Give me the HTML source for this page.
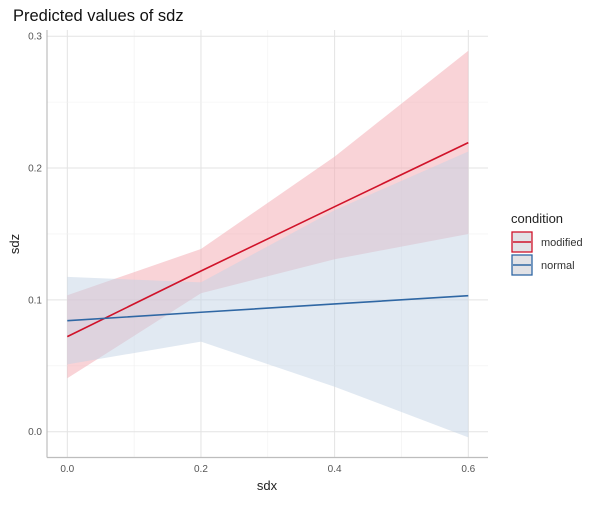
<!DOCTYPE html>
<html><head><meta charset="utf-8"><style>
body{margin:0;background:#fff;font-family:"Liberation Sans",sans-serif}
</style></head><body>
<svg id="c" width="600" height="500" xmlns="http://www.w3.org/2000/svg"></svg>
<script>
const xs=[0,0.2,0.4,0.6];
const modFit=[0.0721,0.1219,0.1707,0.2193];
const modLo=[0.0405,0.105,0.1308,0.15];
const modHi=[0.1035,0.1386,0.2087,0.289];
const normFit=[0.0842,0.0906,0.0969,0.1032];
const normLo=[0.0511,0.0683,0.0341,-0.0043];
const normHi=[0.1174,0.1133,0.168,0.2125];
const xTicks=[0,0.2,0.4,0.6];
const xTickLabels=["0.0","0.2","0.4","0.6"];
const yTicks=[0,0.1,0.2,0.3];
const yTickLabels=["0.0","0.1","0.2","0.3"];
const X=v=>67.3+v*(468.3-67.3)/0.6;
const Y=v=>431.7-v*1318.3;
const s=document.getElementById('c');const NS="http://www.w3.org/2000/svg";
function el(t,a,txt){const e=document.createElementNS(NS,t);for(const k in a)e.setAttribute(k,a[k]);if(txt!==undefined)e.textContent=txt;s.appendChild(e);return e;}
// gridlines
for(let v=0;v<=0.61;v+=0.1){const g=el('line',{x1:X(v),x2:X(v),y1:30,y2:457,stroke:Math.round(v*10)%2?'#f0f0f0':'#e3e3e3','stroke-width':Math.round(v*10)%2?0.6:1});

}
for(let v=-0.0;v<=0.301;v+=0.05){const m=Math.round(v*20)%2;const g=el('line',{x1:47,x2:488,y1:Y(v),y2:Y(v),stroke:m?'#f0f0f0':'#e3e3e3','stroke-width':m?0.6:1});

}
function band(lo,hi,fill,name){const pts=xs.map((x,i)=>X(x)+','+Y(hi[i])).concat(xs.slice().reverse().map((x,j)=>{const i=xs.length-1-j;return X(x)+','+Y(lo[i]);}));
const p=el('polygon',{points:pts.join(' '),fill:fill,'fill-opacity':0.5});

}
function line(f,c,name){const p=el('polyline',{points:xs.map((x,i)=>X(x)+','+Y(f[i])).join(' '),fill:'none',stroke:c,'stroke-width':1.6});

}
band(modLo,modHi,'#f4a8b0','modified-ribbon');
band(normLo,normHi,'#c3d3e6','normal-ribbon');
line(modFit,'#d0132a','modified-line');
line(normFit,'#2f67a4','normal-line');
let a=el('line',{x1:47,x2:47,y1:30,y2:457.5,stroke:'#bdbdbd','stroke-width':1.2});

a=el('line',{x1:47,x2:488,y1:457.5,y2:457.5,stroke:'#bdbdbd','stroke-width':1.2});

xTicks.forEach((v,i)=>{const t=el('text',{x:X(v),y:472,'text-anchor':'middle','font-size':10,fill:'#555'},xTickLabels[i]);

});
yTicks.forEach((v,i)=>{const t=el('text',{x:42,y:Y(v)+3.5,'text-anchor':'end','font-size':10,fill:'#555'},yTickLabels[i]);

});
let t=el('text',{x:267,y:490,'text-anchor':'middle','font-size':13,fill:'#222'},'sdx');

t=el('text',{x:0,y:0,'text-anchor':'middle','font-size':13,fill:'#222',transform:'translate(19,244) rotate(-90)'},'sdz');

t=el('text',{x:13,y:21,'font-size':16.5,fill:'#111'},'Predicted values of sdz');

t=el('text',{x:511,y:223,'font-size':13,fill:'#222'},'condition');

[['modified','#d0132a',232],['normal','#2f67a4',255]].forEach(([n,c,y])=>{
const r=el('rect',{x:512,y:y,width:20,height:20,fill:'#e2e2e6',stroke:c,'stroke-width':1.3});

const l=el('line',{x1:513,x2:531,y1:y+10,y2:y+10,stroke:c,'stroke-width':1.6});

const tx=el('text',{x:541,y:y+14,'font-size':11,fill:'#333'},n);
});
</script>
</body></html>
